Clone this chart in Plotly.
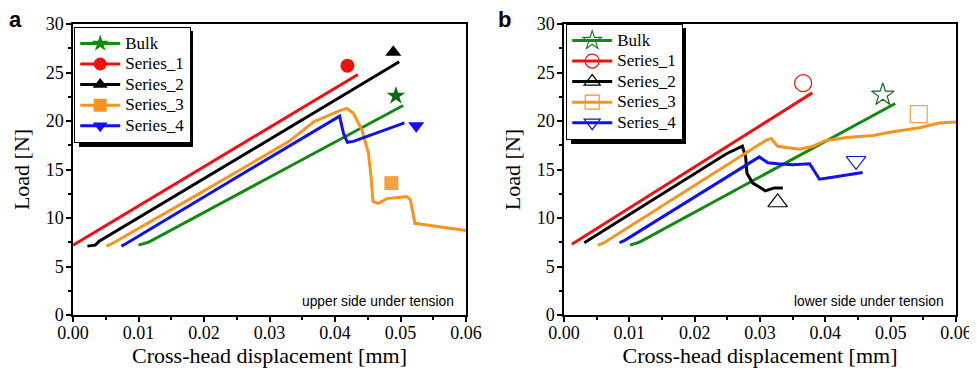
import plotly.graph_objects as go

# ---------------- data: panel a (upper side under tension) ----------------
a_bulk_x = [0.0100, 0.0115, 0.0300, 0.0504]
a_bulk_y = [7.2, 7.5, 14.2, 21.6]
a_s1_x = [0.0000, 0.0200, 0.0435]
a_s1_y = [7.2, 15.3, 24.8]
a_s2_x = [0.0022, 0.0034, 0.0040, 0.0498]
a_s2_y = [7.1, 7.2, 7.6, 26.1]
a_s3_x = [0.0051, 0.0058, 0.0200, 0.0330, 0.0367, 0.0408, 0.0418, 0.0428, 0.0441,
          0.0451, 0.0455, 0.0458, 0.0466, 0.0479, 0.0509, 0.0515, 0.0522, 0.0545,
          0.0570, 0.0600]
a_s3_y = [7.1, 7.3, 12.8, 17.9, 19.9, 21.1, 21.3, 20.8, 19.1,
          16.7, 14.3, 11.7, 11.5, 12.0, 12.2, 11.9, 9.45, 9.2,
          9.0, 8.7]
a_s4_x = [0.0074, 0.0082, 0.0250, 0.0407, 0.0413, 0.0419, 0.0428, 0.0506]
a_s4_y = [7.1, 7.4, 14.2, 20.5, 18.7, 17.8, 17.9, 19.8]
# failure markers (panel a)
a_mk_x = [0.0493, 0.0419, 0.0489, 0.0486, 0.0524]
a_mk_y = [22.6, 25.7, 27.1, 13.6, 19.5]

# ---------------- data: panel b (lower side under tension) ----------------
b_bulk_x = [0.0101, 0.0115, 0.0507]
b_bulk_y = [7.2, 7.5, 21.8]
b_s1_x = [0.0012, 0.0200, 0.0380]
b_s1_y = [7.3, 15.3, 22.9]
b_s2_x = [0.0031, 0.0248, 0.0273, 0.0278, 0.0280, 0.0289, 0.0299, 0.0308, 0.0322, 0.0335]
b_s2_y = [7.45, 16.6, 17.4, 16.3, 14.6, 13.6, 13.2, 12.8, 13.1, 13.1]
b_s3_x = [0.0052, 0.0060, 0.0309, 0.0317, 0.0327, 0.0350, 0.0360, 0.0381, 0.0401,
          0.0432, 0.0473, 0.0503, 0.0544, 0.0574, 0.0600]
b_s3_y = [7.2, 7.4, 18.0, 18.2, 17.4, 17.2, 17.1, 17.4, 18.0,
          18.3, 18.5, 18.9, 19.3, 19.8, 19.9]
b_s4_x = [0.0085, 0.0093, 0.0299, 0.0312, 0.0327, 0.0350, 0.0376, 0.0383, 0.0391,
          0.0411, 0.0437, 0.0457]
b_s4_y = [7.45, 7.7, 16.3, 15.7, 15.6, 15.5, 15.6, 14.8, 14.0,
          14.2, 14.5, 14.7]
b_mk_x = [0.0488, 0.0366, 0.0327, 0.0543, 0.0447]
b_mk_y = [22.7, 23.9, 11.6, 20.7, 15.9]

names = ["Bulk", "Series_1", "Series_2", "Series_3", "Series_4"]
colors = ["#118a11", "#f01010", "#000000", "#f7931e", "#1010f0"]
marker_colors = ["#146414", "#f01010", "#000000", "#f7a040", "#1010f0"]
sym_a = ["star", "circle", "triangle-up", "square", "triangle-down"]
sym_b = ["star-open", "circle-open", "triangle-up-open", "square-open", "triangle-down-open"]

SERIF = "Liberation Serif, Times New Roman, serif"
SANS = "Liberation Sans, Arial, sans-serif"

fig = go.Figure()

a_curves = [(a_bulk_x, a_bulk_y), (a_s1_x, a_s1_y), (a_s2_x, a_s2_y), (a_s3_x, a_s3_y), (a_s4_x, a_s4_y)]
b_curves = [(b_bulk_x, b_bulk_y), (b_s1_x, b_s1_y), (b_s2_x, b_s2_y), (b_s3_x, b_s3_y), (b_s4_x, b_s4_y)]

for i in range(5):
    fig.add_trace(go.Scatter(x=a_curves[i][0], y=a_curves[i][1], mode="lines",
                             line=dict(color=colors[i], width=3), showlegend=False,
                             xaxis="x", yaxis="y"))
    fig.add_trace(go.Scatter(x=b_curves[i][0], y=b_curves[i][1], mode="lines",
                             line=dict(color=colors[i], width=3), showlegend=False,
                             xaxis="x2", yaxis="y2"))
for i in range(5):
    fig.add_trace(go.Scatter(x=[a_mk_x[i]], y=[a_mk_y[i]], mode="markers",
                             marker=dict(symbol=sym_a[i], color=marker_colors[i], size=14),
                             showlegend=False, xaxis="x", yaxis="y"))
    fig.add_trace(go.Scatter(x=[b_mk_x[i]], y=[b_mk_y[i]], mode="markers",
                             marker=dict(symbol=sym_b[i], color=marker_colors[i], size=17,
                                         line=dict(width=1.2, color=marker_colors[i])),
                             showlegend=False, xaxis="x2", yaxis="y2"))
# legend entries
for i in range(5):
    label = '<span style="font-size:17px">' + names[i] + '</span>'
    fig.add_trace(go.Scatter(x=[None], y=[None], mode="lines+markers", name=label,
                             line=dict(color=colors[i], width=3),
                             marker=dict(symbol=sym_a[i], color=colors[i], size=13),
                             legend="legend", xaxis="x", yaxis="y"))
    fig.add_trace(go.Scatter(x=[None], y=[None], mode="lines+markers", name=label,
                             line=dict(color=colors[i], width=3),
                             marker=dict(symbol=sym_b[i], color=colors[i], size=14,
                                         line=dict(width=1.2, color=colors[i])),
                             legend="legend2", xaxis="x2", yaxis="y2"))

# the page body has an 8px margin: the figure is sized so it fits the 977x370 window
OFF = 8
W, H = 977 - OFF, 370 - OFF
# plot area edges in window pixels
PL, PR, PT, PB = 73, 956, 24, 315
ML, MR, MT, MB = PL - OFF, W - (PR - OFF), PT - OFF, H - (PB - OFF)
PW, PH = W - ML - MR, H - MT - MB


def px2paper(sx, sy):
    """window pixel -> paper coords"""
    return (sx - PL) / PW, 1 - (sy - PT) / PH


xa_dom = [0, (466 - PL) / PW]
xb_dom = [(564 - PL) / PW, 1]

axis_common = dict(showline=True, linecolor="black", linewidth=1.5, mirror=True,
                   ticks="outside", ticklen=5, tickwidth=1.5, tickcolor="black",
                   showgrid=False, zeroline=False, automargin=False,
                   tickfont=dict(family=SERIF, size=18, color="black"))

xax = dict(axis_common, range=[0, 0.06], dtick=0.01, tick0=0, tickformat=".2f",
           ticklabelstandoff=-4,
           minor=dict(dtick=0.005, ticks="outside", ticklen=3, tickwidth=1.5, tickcolor="black"),
           title=dict(text="Cross-head displacement [mm]", font=dict(family=SERIF, size=22, color="black"),
                      standoff=4))
yax = dict(axis_common, range=[0, 30], dtick=5, tick0=0, ticklabelstandoff=-1,
           minor=dict(dtick=2.5, ticks="outside", ticklen=3, tickwidth=1.5, tickcolor="black"),
           title=dict(text="Load [N]", font=dict(family=SERIF, size=22, color="black"), standoff=10))

legend_common = dict(bgcolor="white", bordercolor="black", borderwidth=1.2,
                     font=dict(family=SERIF, size=13.5, color="black"),
                     xanchor="left", yanchor="top", itemwidth=40, tracegroupgap=0)

lx_a, ly_a = px2paper(74, 27)
lx_b, ly_b = px2paper(566, 24)

# legend drop shadows (window pixels)
shapes = []
for (x0p, y0p, x1p, y1p) in [(79, 31, 193, 147), (571, 28, 686, 144)]:
    sx0, sy1 = px2paper(x0p, y0p)
    sx1, sy0 = px2paper(x1p, y1p)
    shapes.append(dict(type="rect", xref="paper", yref="paper", x0=sx0, x1=sx1, y0=sy0, y1=sy1,
                       fillcolor="black", line=dict(width=0), layer="above"))

fig.update_layout(
    width=W, height=H,
    margin=dict(l=ML, r=MR, t=MT, b=MB),
    paper_bgcolor="white", plot_bgcolor="white",
    xaxis=dict(xax, domain=xa_dom, anchor="y"),
    yaxis=dict(yax, anchor="x"),
    xaxis2=dict(xax, domain=xb_dom, anchor="y2"),
    yaxis2=dict(yax, anchor="x2"),
    legend=dict(legend_common, x=lx_a, y=ly_a),
    legend2=dict(legend_common, x=lx_b, y=ly_b),
    shapes=shapes,
    annotations=[
        dict(text="upper side under tension", xref="x", yref="y", x=0.0585, y=0.4,
             xanchor="right", yanchor="bottom", showarrow=False,
             font=dict(family=SANS, size=13.8, color="black")),
        dict(text="lower side under tension", xref="x2", yref="y2", x=0.0585, y=0.4,
             xanchor="right", yanchor="bottom", showarrow=False,
             font=dict(family=SANS, size=13.8, color="black")),
        dict(text="<b>a</b>", xref="paper", yref="paper", x=px2paper(7, 0)[0], y=px2paper(0, 5)[1],
             xanchor="left", yanchor="top", showarrow=False,
             font=dict(family=SANS, size=22, color="black")),
        dict(text="<b>b</b>", xref="paper", yref="paper", x=px2paper(496, 0)[0], y=px2paper(0, 5)[1],
             xanchor="left", yanchor="top", showarrow=False,
             font=dict(family=SANS, size=22, color="black")),
    ],
)

fig.write_html("out.html")
